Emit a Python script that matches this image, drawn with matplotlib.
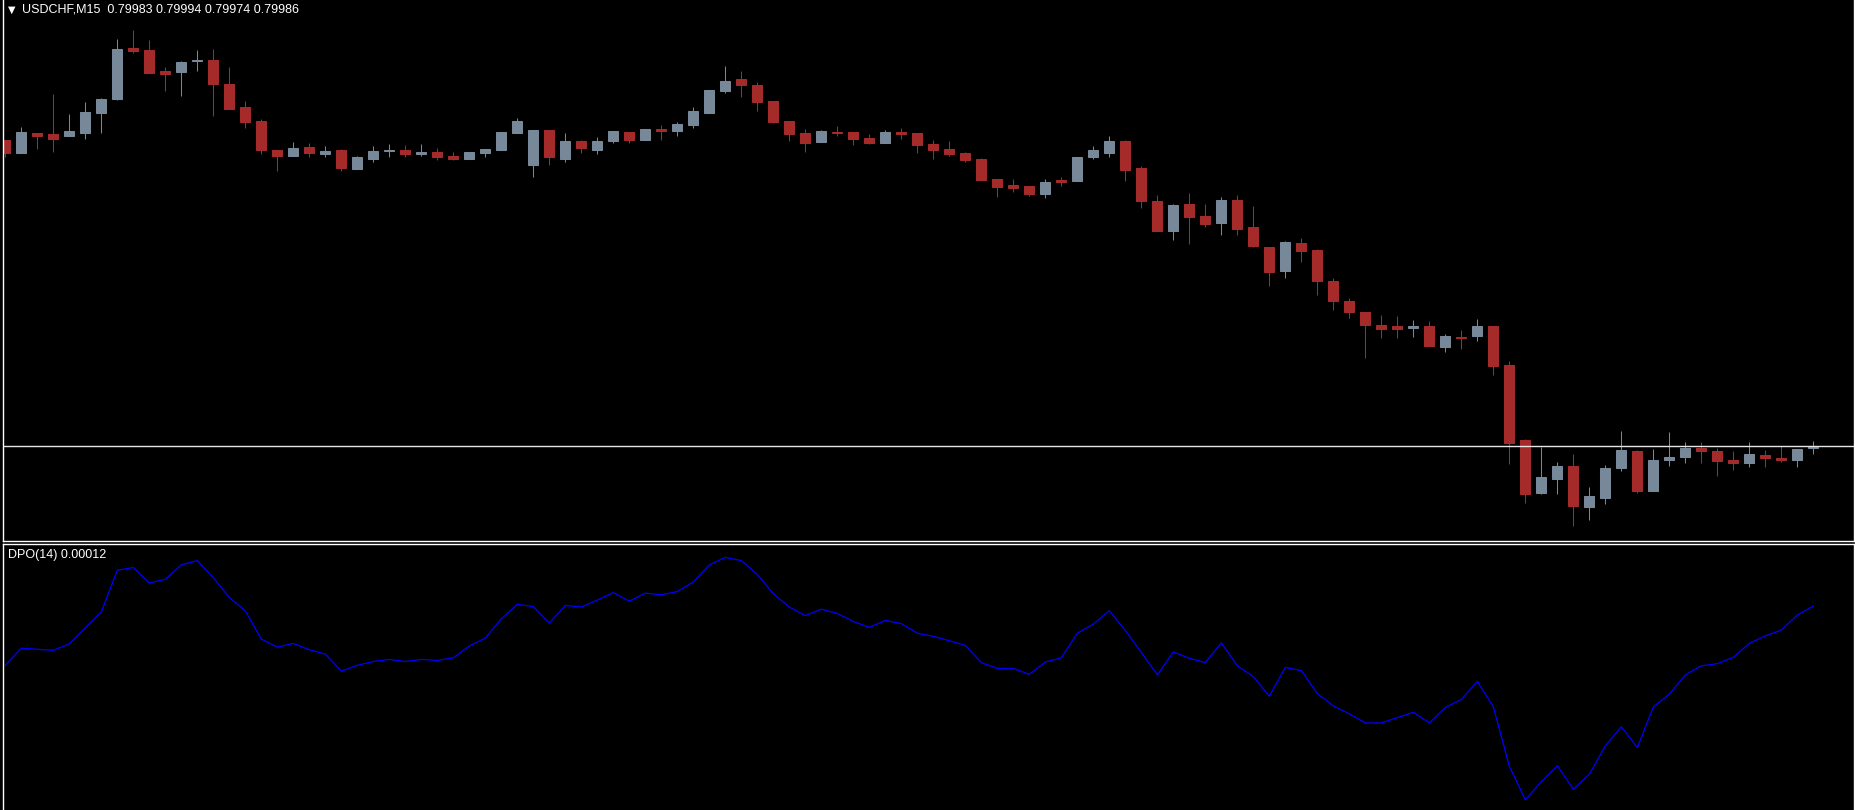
import matplotlib
matplotlib.use('Agg')
import matplotlib.pyplot as plt
import numpy as np

# USDCHF M15 bars (oldest -> newest)
opens = [0.80464, 0.80444, 0.80475, 0.80474, 0.80471, 0.80476, 0.80507, 0.80529, 0.80608, 0.80605,
         0.80572, 0.80571, 0.80587, 0.80590, 0.80552, 0.80516, 0.80494, 0.80449, 0.80440, 0.80453,
         0.80443, 0.80449, 0.80419, 0.80435, 0.80447, 0.80449, 0.80443, 0.80446, 0.80440, 0.80435,
         0.80444, 0.80449, 0.80476, 0.80426, 0.80480, 0.80435, 0.80463, 0.80449, 0.80462, 0.80477,
         0.80464, 0.80481, 0.80478, 0.80488, 0.80506, 0.80541, 0.80560, 0.80550, 0.80525, 0.80494,
         0.80475, 0.80461, 0.80477, 0.80477, 0.80467, 0.80460, 0.80477, 0.80475, 0.80458, 0.80450,
         0.80444, 0.80435, 0.80403, 0.80394, 0.80392, 0.80380, 0.80402, 0.80400, 0.80438, 0.80444,
         0.80463, 0.80420, 0.80369, 0.80322, 0.80364, 0.80345, 0.80335, 0.80370, 0.80328, 0.80297,
         0.80260, 0.80303, 0.80292, 0.80244, 0.80213, 0.80195, 0.80175, 0.80174, 0.80171, 0.80174,
         0.80141, 0.80156, 0.80158, 0.80174, 0.80113, 0.79995, 0.79913, 0.79935, 0.79955, 0.79891,
         0.79905, 0.79952, 0.79978, 0.79916, 0.79965, 0.79969, 0.79983, 0.79978, 0.79964, 0.79960,
         0.79972, 0.79967, 0.79965, 0.79983]
highs = [0.80464, 0.80485, 0.80475, 0.80536, 0.80505, 0.80524, 0.80530, 0.80622, 0.80636, 0.80620,
         0.80579, 0.80588, 0.80605, 0.80606, 0.80578, 0.80525, 0.80497, 0.80449, 0.80461, 0.80460,
         0.80455, 0.80450, 0.80439, 0.80455, 0.80458, 0.80456, 0.80458, 0.80452, 0.80446, 0.80446,
         0.80450, 0.80477, 0.80499, 0.80480, 0.80480, 0.80475, 0.80464, 0.80469, 0.80478, 0.80477,
         0.80481, 0.80488, 0.80492, 0.80516, 0.80542, 0.80580, 0.80572, 0.80555, 0.80525, 0.80494,
         0.80481, 0.80480, 0.80486, 0.80477, 0.80474, 0.80480, 0.80483, 0.80475, 0.80464, 0.80463,
         0.80446, 0.80436, 0.80403, 0.80403, 0.80392, 0.80403, 0.80406, 0.80438, 0.80455, 0.80470,
         0.80464, 0.80424, 0.80378, 0.80364, 0.80381, 0.80364, 0.80375, 0.80378, 0.80361, 0.80297,
         0.80306, 0.80311, 0.80294, 0.80249, 0.80217, 0.80195, 0.80191, 0.80189, 0.80183, 0.80181,
         0.80161, 0.80167, 0.80185, 0.80174, 0.80119, 0.79997, 0.79985, 0.79961, 0.79974, 0.79922,
         0.79956, 0.80010, 0.79980, 0.79981, 0.80008, 0.79992, 0.79992, 0.79983, 0.79978, 0.79992,
         0.79980, 0.79986, 0.79981, 0.79994]
lows = [0.80438, 0.80444, 0.80451, 0.80446, 0.80471, 0.80466, 0.80476, 0.80527, 0.80600, 0.80569,
        0.80541, 0.80533, 0.80572, 0.80502, 0.80513, 0.80483, 0.80443, 0.80416, 0.80440, 0.80438,
        0.80438, 0.80416, 0.80419, 0.80430, 0.80438, 0.80438, 0.80440, 0.80433, 0.80433, 0.80435,
        0.80437, 0.80449, 0.80476, 0.80407, 0.80426, 0.80430, 0.80444, 0.80443, 0.80460, 0.80460,
        0.80464, 0.80464, 0.80470, 0.80483, 0.80506, 0.80538, 0.80531, 0.80510, 0.80491, 0.80463,
        0.80446, 0.80461, 0.80470, 0.80456, 0.80458, 0.80460, 0.80466, 0.80444, 0.80435, 0.80439,
        0.80430, 0.80402, 0.80375, 0.80383, 0.80377, 0.80374, 0.80392, 0.80400, 0.80435, 0.80438,
        0.80401, 0.80358, 0.80322, 0.80308, 0.80302, 0.80329, 0.80316, 0.80316, 0.80297, 0.80237,
        0.80249, 0.80274, 0.80222, 0.80199, 0.80187, 0.80124, 0.80155, 0.80155, 0.80157, 0.80143,
        0.80133, 0.80138, 0.80151, 0.80097, 0.79958, 0.79897, 0.79912, 0.79912, 0.79862, 0.79871,
        0.79896, 0.79947, 0.79913, 0.79916, 0.79955, 0.79960, 0.79960, 0.79940, 0.79949, 0.79954,
        0.79954, 0.79962, 0.79954, 0.79974]
closes = [0.80444, 0.80477, 0.80471, 0.80466, 0.80478, 0.80508, 0.80528, 0.80606, 0.80604, 0.80569,
          0.80568, 0.80586, 0.80589, 0.80552, 0.80513, 0.80493, 0.80449, 0.80440, 0.80452, 0.80444,
          0.80447, 0.80421, 0.80438, 0.80447, 0.80449, 0.80443, 0.80446, 0.80437, 0.80435, 0.80446,
          0.80450, 0.80477, 0.80494, 0.80480, 0.80437, 0.80463, 0.80452, 0.80463, 0.80478, 0.80464,
          0.80481, 0.80479, 0.80489, 0.80510, 0.80542, 0.80556, 0.80550, 0.80524, 0.80492, 0.80474,
          0.80460, 0.80478, 0.80475, 0.80466, 0.80460, 0.80477, 0.80474, 0.80456, 0.80449, 0.80442,
          0.80433, 0.80402, 0.80391, 0.80389, 0.80380, 0.80399, 0.80399, 0.80438, 0.80449, 0.80463,
          0.80418, 0.80369, 0.80322, 0.80363, 0.80344, 0.80333, 0.80370, 0.80326, 0.80299, 0.80258,
          0.80305, 0.80291, 0.80244, 0.80213, 0.80196, 0.80176, 0.80169, 0.80169, 0.80174, 0.80143,
          0.80158, 0.80155, 0.80174, 0.80112, 0.79991, 0.79912, 0.79938, 0.79955, 0.79893, 0.79908,
          0.79952, 0.79980, 0.79916, 0.79964, 0.79969, 0.79983, 0.79979, 0.79963, 0.79960, 0.79974,
          0.79968, 0.79965, 0.79981, 0.79986]

# DPO(14) values, one per bar
dpo = [-0.00099, -0.00067, -0.00069, -0.00071, -0.00059, -0.00029, 0.00001, 0.00079, 0.00084, 0.00055,
       0.00062, 0.00089, 0.00097, 0.00065, 0.00028, 0.00003, -0.00050, -0.00065, -0.00058, -0.00070,
       -0.00078, -0.00110, -0.00099, -0.00092, -0.00088, -0.00092, -0.00088, -0.00090, -0.00085, -0.00063,
       -0.00048, -0.00012, 0.00015, 0.00011, -0.00020, 0.00013, 0.00010, 0.00023, 0.00037, 0.00021,
       0.00036, 0.00033, 0.00039, 0.00057, 0.00089, 0.00103, 0.00097, 0.00071, 0.00035, 0.00010,
       -0.00006, 0.00006, -0.00002, -0.00017, -0.00028, -0.00015, -0.00021, -0.00039, -0.00045, -0.00053,
       -0.00062, -0.00094, -0.00105, -0.00105, -0.00116, -0.00093, -0.00085, -0.00039, -0.00022, 0.00003,
       -0.00034, -0.00075, -0.00117, -0.00074, -0.00086, -0.00094, -0.00057, -0.00100, -0.00120, -0.00157,
       -0.00103, -0.00109, -0.00152, -0.00175, -0.00190, -0.00207, -0.00207, -0.00197, -0.00187, -0.00207,
       -0.00178, -0.00163, -0.00129, -0.00177, -0.00288, -0.00351, -0.00317, -0.00287, -0.00331, -0.00303,
       -0.00250, -0.00214, -0.00253, -0.00177, -0.00153, -0.00117, -0.00100, -0.00096, -0.00084, -0.00058,
       -0.00044, -0.00033, -0.00005, 0.00012]

symbol = 'USDCHF,M15'
bid_price = 0.79986

BULL = '#778899'
BEAR = '#a52a2a'
W, H = 1856, 810

o = np.array(opens)
hi = np.array(highs)
lo = np.array(lows)
c = np.array(closes)
x = np.arange(len(o))
colors = np.where(c >= o, BULL, BEAR)

fig = plt.figure(figsize=(W / 100, H / 100), dpi=100, facecolor='black')
ax = fig.add_axes([3 / W, 269 / H, 1851 / W, 541 / H])
ax2 = fig.add_axes([3 / W, 0, 1851 / W, 266.5 / H])

for a in (ax, ax2):
    a.set_facecolor('black')
    for s in a.spines.values():
        s.set_color('white')
        s.set_linewidth(1.0)
    a.set_xlim(-0.144, 115.54)
    a.set_xticks([])
    a.tick_params(axis='y', left=False, labelleft=False, right=True, labelright=False,
                  direction='out', length=2, width=1, color='white')
ax.spines['top'].set_visible(False)
ax2.spines['bottom'].set_visible(False)

# candles
ax.vlines(x, lo, hi, colors=colors, linewidth=0.75)
ax.bar(x, np.abs(c - o), bottom=np.minimum(o, c), width=0.62,
       color=colors, edgecolor=colors, linewidth=0.75)
ax.axhline(bid_price, color='#e6e6e6', linewidth=1.0)
ax.set_ylim(0.79838, 0.80683)
ax.set_yticks(np.arange(0.79867, 0.8068, 0.00078))

# DPO pane
ax2.plot(x, dpo, color='#0000ff', linewidth=0.9)
ax2.set_ylim(-0.0037, 0.00129)
ax2.set_yticks([0.0, 0.00126])

font = ['Liberation Sans', 'DejaVu Sans']
fig.text(8 / W, 1 - 10 / H, '\u25bc', color='white', fontsize=7, va='center', family='DejaVu Sans')
title = f'{symbol}  {opens[-1]:.5f} {highs[-1]:.5f} {lows[-1]:.5f} {closes[-1]:.5f}'
fig.text(22 / W, 1 - 10 / H, title, color='white', fontsize=9, va='center', family=font)
fig.text(8 / W, 1 - 555 / H, f'DPO(14) {dpo[-1]:.5f}', color='white', fontsize=9,
         va='center', family=font)

fig.savefig('out.png', dpi=100, facecolor='black')
